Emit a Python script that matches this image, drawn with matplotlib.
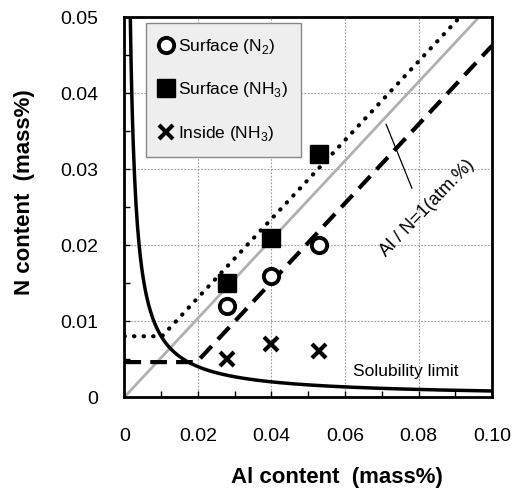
import numpy as np
import matplotlib
matplotlib.use("Agg")
import matplotlib.pyplot as plt
from matplotlib.ticker import MultipleLocator, FixedLocator, FixedFormatter

plt.rcParams['font.family'] = ['Liberation Sans', 'DejaVu Sans']
plt.rcParams['mathtext.fontset'] = 'custom'
plt.rcParams['mathtext.rm'] = 'Liberation Sans'

#%% data
al = [0.028, 0.040, 0.053]
surf_n2 = [0.012, 0.016, 0.020]
surf_nh3 = [0.015, 0.021, 0.032]
inside_nh3 = [0.005, 0.007, 0.006]

ratio = 14.0 / 27.0          # Al/N = 1 (atm.%) in mass%
sol_k = 8.0e-5               # solubility product
dash_level, dash_off = 0.0046, -0.0056
dot_level, dot_off = 0.008, 0.0027

xticks = [0, 0.02, 0.04, 0.06, 0.08, 0.10]
xlabels = ['0', '0.02', '0.04', '0.06', '0.08', '0.10']
yticks = [0, 0.01, 0.02, 0.03, 0.04, 0.05]
ylabels = ['0', '0.01', '0.02', '0.03', '0.04', '0.05']

#%% plot
fig = plt.figure(figsize=(5.12, 4.92), dpi=100)
ax = fig.add_axes([0.243, 0.193, 0.718, 0.772])

x = np.linspace(0.0012, 0.1, 500)
ax.plot(x, sol_k / x, color='black', lw=2.5, zorder=3)

xs = np.linspace(0, 0.1, 50)
ax.plot(xs, ratio * xs, color='#b0b0b0', lw=2, zorder=2)

kink = (dash_level - dash_off) / ratio
xd = np.array([0, kink, 0.1])
ax.plot(xd, np.maximum(ratio * xd + dash_off, dash_level), color='black', lw=3,
        dashes=(4, 2.2), zorder=3)

kink2 = (dot_level - dot_off) / ratio
xp = np.array([0, kink2, 0.1])
ax.plot(xp, np.maximum(ratio * xp + dot_off, dot_level), color='black', lw=3,
        linestyle=(0, (0.1, 2.2)), dash_capstyle='round', zorder=3)

ax.plot(al, surf_n2, 'o', ms=11, mfc='white', mec='black', mew=2.8,
        label='Surface (N$_{2}$)', zorder=5)
ax.plot(al, surf_nh3, 's', ms=13, color='black', label='Surface (NH$_{3}$)', zorder=5)
ax.plot(al, inside_nh3, 'x', ms=10, color='black', mew=3, label='Inside (NH$_{3}$)', zorder=5)

ax.text(0.0622, 0.0033, 'Solubility limit', fontsize=12.5, va='center', ha='left')
ax.text(0.0823, 0.0249, 'Al / N=1(atm.%)', fontsize=13, rotation=46,
        ha='center', va='center')
ax.plot([0.0712, 0.0782], [0.0359, 0.0275], color='black', lw=0.9)

ax.set_xlim(0, 0.1)
ax.set_ylim(0, 0.05)
ax.xaxis.set_major_locator(FixedLocator(xticks))
ax.xaxis.set_major_formatter(FixedFormatter(xlabels))
ax.yaxis.set_major_locator(FixedLocator(yticks))
ax.yaxis.set_major_formatter(FixedFormatter(ylabels))
ax.xaxis.set_minor_locator(MultipleLocator(0.01))
ax.yaxis.set_minor_locator(MultipleLocator(0.005))
ax.tick_params(which='both', direction='in', length=4, width=1, labelsize=14, pad=19)
ax.tick_params(axis='x', pad=22)
ax.grid(True, which='major', color='#999999', linestyle=(0, (1.5, 1.5)), lw=0.8)
for s in ax.spines.values():
    s.set_linewidth(2)

ax.set_xlabel('Al content  (mass%)', fontsize=16, fontweight='bold', va='center')
ax.xaxis.set_label_coords(0.579, -0.213)
ax.set_ylabel('N content  (mass%)', fontsize=16, fontweight='bold', va='center')
ax.yaxis.set_label_coords(-0.272, 0.54)

leg = ax.legend(loc='upper left', bbox_to_anchor=(0.06, 0.984), fontsize=12.5,
                handlelength=0.6, handletextpad=0.4, labelspacing=1.4,
                borderpad=0.8, borderaxespad=0, fancybox=False, framealpha=1,
                markerscale=1)
leg.get_frame().set_facecolor('#eeeeee')
leg.get_frame().set_edgecolor('#888888')
leg.get_frame().set_linewidth(1)

fig.savefig('out.png', dpi=100)
